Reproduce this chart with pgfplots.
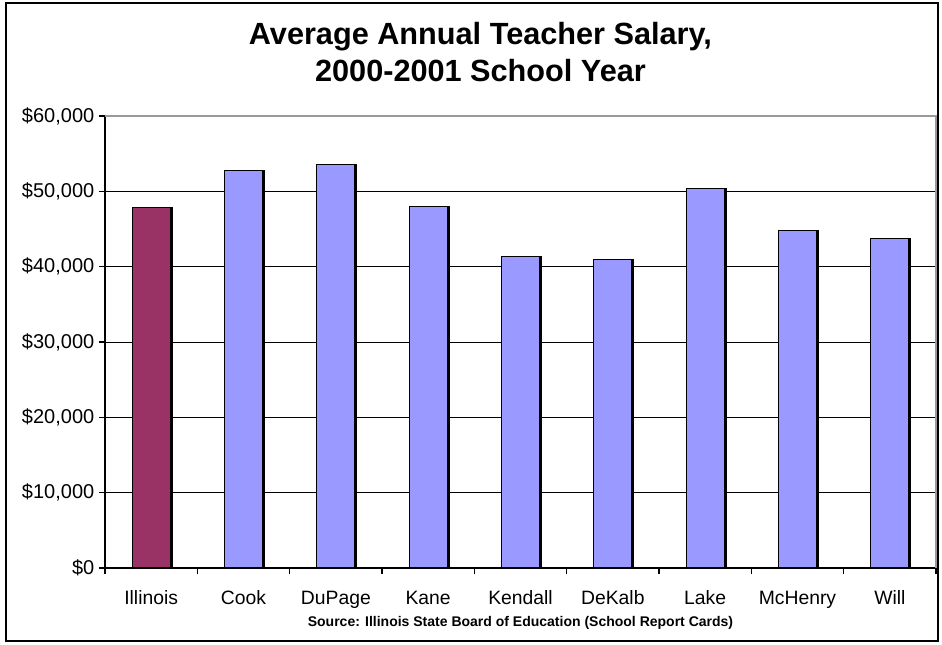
\documentclass[border=0pt]{standalone}
\usepackage{pgfplots}
\pgfplotsset{compat=1.18}
\usepackage{fontspec}
\setmainfont{Liberation Sans}
\definecolor{illi}{HTML}{993366}
\definecolor{cnty}{HTML}{9999FF}
\definecolor{plotframe}{HTML}{999999}
\begin{document}
\begin{tikzpicture}
\useasboundingbox (-78.75pt,-57pt) rectangle (627.75pt,426pt);
\draw[black, line width=1.4pt] (-74.25pt,-54.75pt) rectangle (624.75pt,423.75pt);
\node[align=center, font=\fontsize{23}{27.75}\selectfont\bfseries] at (281.6pt,386.9pt)
  {Average Annual Teacher Salary,\\2000-2001 School Year};
\begin{axis}[
  at={(0,0)}, anchor=south west,
  scale only axis,
  width=623.25pt, height=339pt,
  ybar, bar width=28.5pt, bar shift=0pt,
  ymin=0, ymax=60000,
  ytick={0,10000,...,60000},
  scaled y ticks=false,
  yticklabel={\$\pgfmathprintnumber{\tick}},
  /pgf/number format/.cd, fixed, 1000 sep={,}, assume math mode=true,
  /pgfplots/.cd,
  xmin=-0.5, xmax=8.5,
  xtick={0,...,8},
  xticklabels={Illinois,Cook,DuPage,Kane,Kendall,DeKalb,Lake,McHenry,Will},
  minor xtick={-0.5,0.5,...,8.5},
  major tick length=4.5pt,
  minor tick length=4.5pt,
  tick align=outside,
  major x tick style={draw=none},
  minor x tick style={black, line width=1pt},
  major y tick style={black, line width=1pt},
  axis x line*=bottom, axis y line*=left,
  axis line style={black, line width=1.1pt, -},
  ymajorgrids,
  grid style={black, line width=0.75pt},
  yticklabel style={font=\fontsize{15}{17}\selectfont},
  xticklabel style={font=\fontsize{14.5}{17}\selectfont, yshift=-9pt},
  clip=false,
]
% shadow on the right side of each bar
\addplot[fill=black, draw=black, line width=0.8pt, bar shift=1.4pt] coordinates {(0,47800) (1,52800) (2,53600) (3,48000) (4,41400) (5,40900) (6,50400) (7,44800) (8,43800)};
\addplot[fill=illi, draw=black, line width=0.8pt] coordinates {(0,47800)};
\addplot[fill=cnty, draw=black, line width=0.8pt] coordinates {(1,52800) (2,53600) (3,48000) (4,41400) (5,40900) (6,50400) (7,44800) (8,43800)};
\draw[plotframe, line width=1.1pt] (rel axis cs:0,1) -- (rel axis cs:1,1) -- (rel axis cs:1,0);
\end{axis}
\node[font=\fontsize{10.5}{12}\selectfont\bfseries] at (311.6pt,-40.9pt)
  {Source: Illinois State Board of Education (School Report Cards)};
\end{tikzpicture}
\end{document}
